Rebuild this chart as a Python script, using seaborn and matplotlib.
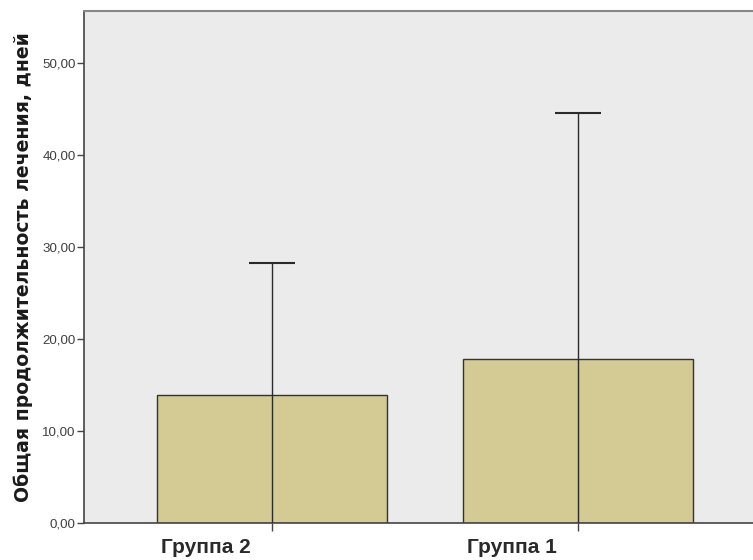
import matplotlib
matplotlib.use("Agg")
import matplotlib.pyplot as plt
import matplotlib.transforms as mtransforms
import seaborn as sns
import pandas as pd
from matplotlib.ticker import FuncFormatter

# Treatment duration by group: mean and standard deviation (days)
groups = ["Группа 2", "Группа 1"]
means = [13.9, 17.8]
sds = [14.4, 26.8]

df = pd.DataFrame({"group": groups, "mean": means})

sns.set_style("white")
plt.rcParams["font.family"] = ["Liberation Sans", "DejaVu Sans"]

fig = plt.figure(figsize=(7.53, 5.6), dpi=100)
ax = fig.add_axes([0.1116, 0.066, 0.8884, 0.914])
ax.set_facecolor("#EBEBEB")

sns.barplot(data=df, x="group", y="mean", order=groups, color="#D3CA94",
            edgecolor="#333333", linewidth=1.0, width=0.75, saturation=1,
            errorbar=None, ax=ax)

ax.errorbar(range(len(groups)), means, yerr=sds, fmt="none",
            ecolor="#2a2a2a", elinewidth=1.0, capsize=23.5 * 0.72,
            capthick=1.5, zorder=5)

ax.set_xlim(-0.614, 1.572)
ax.set_ylim(0, 55.65)
ax.set_yticks([0, 10, 20, 30, 40, 50])
ax.yaxis.set_major_formatter(FuncFormatter(lambda v, p: f"{v:.2f}".replace(".", ",")))

ax.tick_params(axis="y", direction="out", length=5, width=1, color="#444444",
               labelsize=9.6, labelcolor="#404040", pad=1, left=True)
ax.tick_params(axis="x", direction="out", length=6, width=1, color="#444444",
               labelsize=15, labelcolor="#2a2a2a", pad=4.5, bottom=True)

# group names sit left of their tick marks
shift = mtransforms.ScaledTranslation(-0.66, 0, fig.dpi_scale_trans)
for lbl in ax.get_xticklabels():
    lbl.set_fontweight("bold")
    lbl.set_transform(lbl.get_transform() + shift)

ax.set_xlabel("")
ax.set_ylabel("Общая продолжительность лечения, дней", fontsize=13.6,
              fontweight="bold", color="#1a1a1a",
              fontfamily=["DejaVu Sans"])
ax.yaxis.set_label_coords(-0.077, 0.5)

for side in ["left", "bottom"]:
    ax.spines[side].set_visible(True)
    ax.spines[side].set_color("#444444")
    ax.spines[side].set_linewidth(1.2)
ax.spines["top"].set_visible(True)
ax.spines["top"].set_color("#888888")
ax.spines["top"].set_linewidth(1.5)
ax.spines["right"].set_visible(False)

fig.savefig("out.png", dpi=100)
